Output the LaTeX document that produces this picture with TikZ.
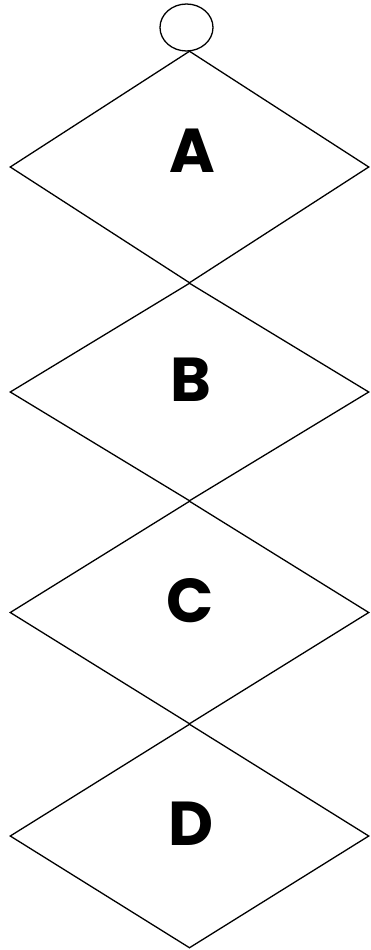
\documentclass[tikz,border=0pt]{standalone}
\usepackage{fontspec}
\setmainfont{Poppins}
\usetikzlibrary{shapes.geometric}
\begin{document}
\begin{tikzpicture}[x=1pt,y=-1pt,
  dia/.style={shape=diamond,draw=black,line width=1.3pt,inner sep=0pt,minimum width=359pt},
  lbl/.style={font=\fontsize{62}{62}\selectfont\bfseries,inner sep=0pt,anchor=center},
  topcirc/.style={shape=ellipse,draw=black,line width=1.3pt,inner sep=0pt,minimum width=53pt,minimum height=47pt}]
\useasboundingbox (0,0) rectangle (370,950);
\node[topcirc] (c) at (186.5,27.5) {};
\node[dia,minimum height=232pt] (da) at (189.5,167) {};
\node[dia,minimum height=218pt] (db) at (189.5,392) {};
\node[dia,minimum height=223pt] (dc) at (189.5,612.5) {};
\node[dia,minimum height=224pt] (dd) at (189.5,836) {};
\node[lbl] (la) at (192,151) {A};
\node[lbl] (lb) at (191,380) {B};
\node[lbl] (lc) at (190,601) {C};
\node[lbl] (ld) at (191,824) {D};
\end{tikzpicture}
\end{document}
